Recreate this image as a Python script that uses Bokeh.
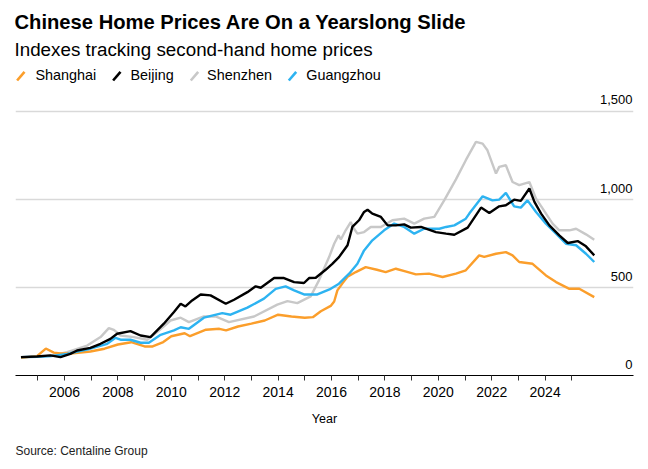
from bokeh.plotting import figure
from bokeh.models import Range1d, FixedTicker, LabelSet, ColumnDataSource
from bokeh.layouts import column
from bokeh.embed import file_html
from bokeh.resources import INLINE
from bokeh.core.properties import value

FONT = "Liberation Sans"

# ---------------- data ----------------
shanghai_t = [2004.37, 2004.97, 2005.3, 2005.6, 2005.85, 2006.22, 2006.6, 2006.97, 2007.5, 2008.0,
              2008.5, 2009.0, 2009.3, 2009.7, 2010.0, 2010.5, 2010.7, 2011.3, 2011.8, 2012.05,
              2012.5, 2013.0, 2013.5, 2014.0, 2014.5, 2015.0, 2015.3, 2015.6, 2015.97, 2016.1,
              2016.22, 2016.41, 2016.6, 2016.91, 2017.28, 2017.7, 2018.03, 2018.41, 2018.8, 2019.16,
              2019.65, 2020.16, 2020.66, 2021.03, 2021.53, 2021.72, 2022.16, 2022.53, 2022.78, 2023.03,
              2023.53, 2024.03, 2024.41, 2024.91, 2025.28, 2025.84]
shanghai_v = [100, 110, 153, 130, 125, 125, 130, 136, 152, 176,
              189, 165, 165, 190, 223, 240, 223, 260, 265, 256,
              278, 294, 312, 345, 335, 328, 331, 365, 395, 420,
              483, 523, 560, 587, 615, 600, 587, 606, 590, 574,
              578, 559, 578, 597, 682, 673, 691, 700, 682, 644,
              634, 568, 530, 492, 492, 445]

beijing_t = [2004.37, 2004.97, 2005.47, 2005.85, 2006.22, 2006.47, 2006.97, 2007.35, 2007.72, 2007.97,
             2008.47, 2008.85, 2009.22, 2009.72, 2010.1, 2010.35, 2010.53, 2010.78, 2011.1, 2011.47,
             2012.04, 2012.35, 2012.85, 2013.16, 2013.35, 2013.85, 2014.22, 2014.6, 2014.97, 2015.16,
             2015.41, 2015.78, 2016.03, 2016.28, 2016.6, 2016.78, 2017.03, 2017.22, 2017.35, 2017.53,
             2017.85, 2018.1, 2018.41, 2018.72, 2018.97, 2019.35, 2019.91, 2020.29, 2020.6, 2021.1,
             2021.6, 2021.91, 2022.28, 2022.53, 2022.84, 2023.09, 2023.41, 2023.6, 2023.85, 2024.16,
             2024.53, 2024.85, 2025.22, 2025.53, 2025.84]
beijing_v = [104, 108, 114, 104, 123, 142, 157, 180, 208, 237,
             252, 227, 218, 294, 360, 407, 392, 426, 460, 455,
             407, 430, 473, 506, 498, 553, 553, 530, 525, 553,
             555, 600, 634, 672, 739, 843, 881, 928, 941, 919,
             900, 852, 852, 858, 839, 843, 814, 805, 799, 839,
             953, 922, 960, 966, 998, 991, 1061, 985, 919, 852,
             795, 752, 763, 733, 682]

shenzhen_t = [2004.37, 2005.0, 2005.5, 2006.1, 2006.85, 2007.35, 2007.66, 2007.85, 2008.1, 2008.6,
              2009.1, 2009.47, 2009.97, 2010.35, 2010.66, 2011.22, 2011.66, 2012.16, 2013.1, 2013.97,
              2014.35, 2014.72, 2015.22, 2015.53, 2015.91, 2016.1, 2016.26, 2016.35, 2016.53, 2016.72,
              2016.8, 2016.97, 2017.22, 2017.47, 2017.85, 2018.28, 2018.72, 2019.1, 2019.47, 2019.85,
              2020.22, 2020.66, 2021.03, 2021.41, 2021.66, 2021.84, 2022.16, 2022.28, 2022.53, 2022.78,
              2023.03, 2023.41, 2023.66, 2023.91, 2024.28, 2024.53, 2024.91, 2025.16, 2025.53, 2025.84]
shenzhen_v = [104, 106, 112, 132, 170, 218, 269, 259, 227, 218,
              203, 246, 312, 328, 303, 335, 335, 303, 335, 402,
              422, 411, 449, 540, 672, 748, 795, 772, 824, 871,
              843, 805, 814, 843, 843, 881, 890, 862, 890, 900,
              994, 1113, 1222, 1326, 1316, 1278, 1146, 1184, 1193, 1098,
              1080, 1098, 1004, 947, 862, 824, 824, 833, 801, 771]

guangzhou_t = [2004.37, 2005.0, 2005.5, 2006.1, 2006.97, 2007.6, 2007.91, 2008.1, 2008.47, 2008.85,
               2009.16, 2009.6, 2010.1, 2010.35, 2010.66, 2011.22, 2011.91, 2012.22, 2012.85, 2013.47,
               2013.91, 2014.28, 2014.6, 2014.97, 2015.47, 2015.97, 2016.28, 2016.66, 2016.97, 2017.22,
               2017.53, 2017.97, 2018.35, 2018.72, 2019.1, 2019.47, 2020.04, 2020.29, 2020.6, 2021.03,
               2021.16, 2021.66, 2022.03, 2022.28, 2022.53, 2022.84, 2023.09, 2023.34, 2023.66, 2024.03,
               2024.41, 2024.78, 2025.16, 2025.53, 2025.84]
guangzhou_v = [104, 106, 110, 123, 152, 180, 214, 203, 203, 186,
               186, 231, 256, 274, 265, 328, 354, 345, 385, 436,
               492, 506, 483, 460, 460, 492, 521, 578, 634, 710,
               767, 824, 862, 843, 805, 833, 833, 843, 852, 890,
               919, 1017, 994, 998, 1036, 960, 953, 994, 928, 862,
               805, 748, 739, 691, 644]

series_names = ["Shanghai", "Beijing", "Shenzhen", "Guangzhou"]
series_colors = ["#fb9e2b", "#000000", "#c8c8c8", "#2db3f1"]

x_major_ticks = [2006, 2008, 2010, 2012, 2014, 2016, 2018, 2020, 2022, 2024]
x_minor_ticks = [2005, 2007, 2009, 2011, 2013, 2015, 2017, 2019, 2021, 2023, 2025]
y_ticks = [0, 500, 1000, 1500]
y_tick_labels = ["0", "500", "1,000", "1,500"]

title_text = "Chinese Home Prices Are On a Yearslong Slide"
subtitle_text = "Indexes tracking second-hand home prices"
source_text = "Source: Centaline Group"

W = 648


def text_panel(height):
    f = figure(width=W, height=height, x_range=Range1d(0, W), y_range=Range1d(height, 0),
               x_axis_location=None, y_axis_location=None, toolbar_location=None,
               output_backend="svg", min_border=0, min_border_left=0, min_border_right=0,
               min_border_top=0, min_border_bottom=0, frame_align=False)
    f.outline_line_color = None
    f.xgrid.visible = False
    f.ygrid.visible = False
    return f


# ---------------- header: title, subtitle, legend ----------------
HH = 88
header = text_panel(HH)
header.text(x=[14], y=[21.5], text=[title_text], text_font=value(FONT), text_font_size="20.2px",
            text_font_style="bold", text_color="#000000", text_baseline="middle")
header.text(x=[14], y=[48.5], text=[subtitle_text], text_font=value(FONT), text_font_size="18.8px",
            text_color="#000000", text_baseline="middle")

legend_slash_cx = [20.3, 116.3, 194, 292]
legend_text_x = [35, 130, 206.6, 305.8]
header.segment(x0=[c - 3.7 for c in legend_slash_cx], y0=[80] * 4,
               x1=[c + 3.7 for c in legend_slash_cx], y1=[71.3] * 4,
               line_color=series_colors, line_width=2.6)
header.text(x=legend_text_x, y=[74] * 4, text=series_names, text_font=value(FONT),
            text_font_size="14.4px", text_baseline="middle", text_align="left",
            text_color="#000000")

# ---------------- main chart ----------------
MH = 351
p = figure(width=W, height=MH, x_range=Range1d(2004.165, 2027.31), y_range=Range1d(0, 1628.8),
           y_axis_location=None, toolbar_location=None, output_backend="svg",
           min_border_left=15, min_border_right=15, min_border_top=0, min_border_bottom=64,
           frame_align=False)
p.outline_line_color = None
p.xgrid.visible = False
for g in p.ygrid:
    g.ticker = FixedTicker(ticks=y_ticks[1:])
    g.grid_line_color = "#d9d9d9"
    g.grid_line_width = 1.5

p.line(shenzhen_t, shenzhen_v, line_color=series_colors[2], line_width=2.4)
p.line(shanghai_t, shanghai_v, line_color=series_colors[0], line_width=2.4)
p.line(guangzhou_t, guangzhou_v, line_color=series_colors[3], line_width=2.4)
p.line(beijing_t, beijing_v, line_color=series_colors[1], line_width=2.4)

ax = p.xaxis[0]
ax.ticker = FixedTicker(ticks=x_major_ticks, minor_ticks=x_minor_ticks)
ax.axis_line_color = "#000000"
ax.axis_line_width = 1
ax.major_tick_in = 0
ax.major_tick_out = 5
ax.minor_tick_in = 0
ax.minor_tick_out = 5
ax.major_tick_line_color = "#333333"
ax.minor_tick_line_color = "#333333"
ax.major_label_text_font = FONT
ax.major_label_text_font_size = "14px"
ax.major_label_text_color = "#000000"
ax.major_label_standoff = 6
ax.axis_label = "Year"
ax.axis_label_text_font = FONT
ax.axis_label_text_font_size = "12.5px"
ax.axis_label_text_font_style = "normal"
ax.axis_label_text_color = "#000000"
ax.axis_label_standoff = 12

ysrc = ColumnDataSource(dict(y=y_ticks, t=y_tick_labels))
p.add_layout(LabelSet(x=632, y="y", text="t", x_units="canvas", source=ysrc,
                      text_align="right", text_baseline="alphabetic", y_offset=6.7,
                      text_font=value(FONT), text_font_size="13px", text_color="#000000"))

# ---------------- footer: source ----------------
FH = 469 - HH - MH
footer = text_panel(FH)
footer.text(x=[15], y=[450.5 - HH - MH], text=[source_text], text_font=value(FONT),
            text_font_size="12px", text_color="#222222", text_baseline="middle")

layout = column(header, p, footer, spacing=0)
open("out.html", "w").write(file_html(layout, INLINE))
